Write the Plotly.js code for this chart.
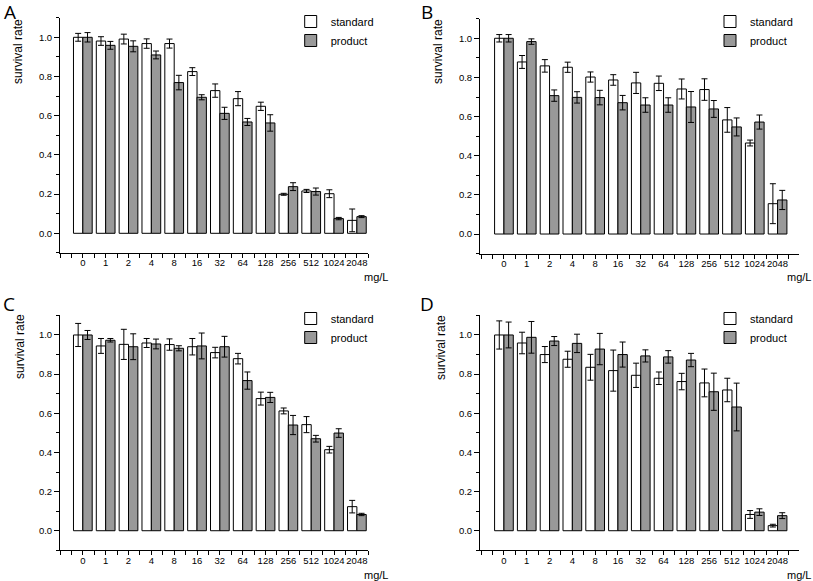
<!DOCTYPE html>
<html>
<head>
<meta charset="utf-8">
<script src="https://cdn.plot.ly/plotly-3.0.1.min.js"></script>
<style>html,body{margin:0;padding:0;background:#fff;}#chart{width:813px;height:581px;}</style>
</head>
<body>
<div id="chart"></div>
<script>
// ---- data ----
const categories = ['0','1','2','4','8','16','32','64','128','256','512','1024','2048'];
const seriesNames = ['standard','product'];

const A_standard = [1.000,0.981,0.991,0.968,0.968,0.825,0.728,0.687,0.648,0.199,0.216,0.202,0.066];
const A_standardErr = [0.020,0.022,0.025,0.024,0.023,0.020,0.034,0.036,0.021,0.005,0.008,0.020,0.058];
const A_product = [1.000,0.959,0.954,0.910,0.769,0.694,0.612,0.568,0.563,0.238,0.213,0.075,0.085];
const A_productErr = [0.024,0.020,0.028,0.020,0.037,0.013,0.031,0.018,0.042,0.020,0.018,0.006,0.005];

const B_standard = [1.000,0.879,0.859,0.852,0.802,0.787,0.772,0.770,0.741,0.738,0.583,0.465,0.155];
const B_standardErr = [0.019,0.033,0.032,0.026,0.026,0.027,0.054,0.037,0.051,0.055,0.063,0.015,0.102];
const B_product = [1.000,0.983,0.707,0.698,0.697,0.671,0.659,0.659,0.649,0.639,0.547,0.572,0.174];
const B_productErr = [0.019,0.014,0.029,0.029,0.037,0.037,0.037,0.037,0.079,0.043,0.046,0.036,0.049];

const C_standard = [1.000,0.944,0.952,0.959,0.951,0.940,0.910,0.879,0.675,0.612,0.542,0.414,0.123];
const C_standardErr = [0.059,0.038,0.077,0.023,0.029,0.042,0.027,0.027,0.033,0.015,0.041,0.017,0.032];
const C_product = [1.000,0.973,0.940,0.954,0.932,0.944,0.940,0.767,0.681,0.540,0.470,0.499,0.083];
const C_productErr = [0.023,0.009,0.066,0.025,0.013,0.066,0.053,0.044,0.026,0.049,0.017,0.022,0.006];

const D_standard = [1.000,0.959,0.900,0.876,0.835,0.818,0.794,0.779,0.762,0.755,0.719,0.083,0.026];
const D_standardErr = [0.072,0.055,0.041,0.041,0.066,0.105,0.062,0.032,0.042,0.071,0.060,0.020,0.007];
const D_product = [1.000,0.988,0.969,0.957,0.928,0.900,0.893,0.888,0.872,0.710,0.632,0.095,0.077];
const D_productErr = [0.066,0.081,0.023,0.047,0.080,0.064,0.031,0.032,0.034,0.095,0.122,0.017,0.015];

const panelLetters = ['A','B','C','D'];
const yTitle = 'survival rate';
const xUnit = 'mg/L';

// ---- build ----
const xIdx = categories.map((c, i) => i);
const panels = [
  {s: A_standard, se: A_standardErr, p: A_product, pe: A_productErr},
  {s: B_standard, se: B_standardErr, p: B_product, pe: B_productErr},
  {s: C_standard, se: C_standardErr, p: C_product, pe: C_productErr},
  {s: D_standard, se: D_standardErr, p: D_product, pe: D_productErr}
];

const W = 813, H = 581;
// pixel geometry of each panel: [left, right, top, bottom], x range
const geom = [
  {l: 60,  r: 368.3, t: 17.7,  b: 252.9, xr: [-1, 12.5],   leg: [290.7, 7],  title: [18, 52],  unit: [376, 277], letter: [9.5, 12]},
  {l: 480, r: 799,   t: 18.7,  b: 253.6, xr: [-1.05, 12.94], leg: [710, 7],  title: [438, 52], unit: [799, 277], letter: [426.5, 12]},
  {l: 60,  r: 368.3, t: 315.4, b: 550.3, xr: [-1, 12.5],   leg: [290.7, 304], title: [20, 347], unit: [376, 575], letter: [8.5, 303.5]},
  {l: 480, r: 799,   t: 315.4, b: 550.3, xr: [-1.05, 12.94], leg: [710, 304], title: [441, 348], unit: [799, 575], letter: [427, 303.5]}
];

const font = 'Liberation Sans, Arial, sans-serif';
const traces = [];
const layout = {
  width: W, height: H,
  margin: {l: 0, r: 0, t: 0, b: 0},
  paper_bgcolor: '#fff', plot_bgcolor: 'rgba(0,0,0,0)',
  barmode: 'group', bargap: 0.18, bargroupgap: 0,
  font: {family: font, size: 10, color: '#000'},
  annotations: [], showlegend: true
};

panels.forEach((pd, k) => {
  const g = geom[k];
  const sfx = k === 0 ? '' : String(k + 1);
  const legName = 'legend' + sfx;
  const errStyle = {type: 'data', visible: true, color: '#000', thickness: 1, width: 3};
  traces.push({
    type: 'bar', name: seriesNames[0], x: xIdx, y: pd.s,
    xaxis: 'x' + sfx, yaxis: 'y' + sfx, legend: legName,
    marker: {color: '#ffffff', line: {color: '#000', width: 1}},
    error_y: Object.assign({array: pd.se}, errStyle), hoverinfo: 'skip'
  });
  traces.push({
    type: 'bar', name: seriesNames[1], x: xIdx, y: pd.p,
    xaxis: 'x' + sfx, yaxis: 'y' + sfx, legend: legName,
    marker: {color: '#999999', line: {color: '#000', width: 1}},
    error_y: Object.assign({array: pd.pe}, errStyle), hoverinfo: 'skip'
  });
  layout['xaxis' + sfx] = {
    domain: [g.l / W, g.r / W], anchor: 'y' + sfx, range: g.xr,
    tickmode: 'array', tickvals: xIdx, ticktext: categories, tickangle: 0,
    ticks: 'outside', ticklen: 4, tickwidth: 1, tickcolor: '#000', ticklabelstandoff: -3,
    minor: {tickmode: 'linear', tick0: -1, dtick: 0.5, ticks: 'outside', ticklen: 4, tickwidth: 1, tickcolor: '#000'},
    showline: true, linecolor: '#000', linewidth: 1, showgrid: false, zeroline: false,
    tickfont: {family: font, size: 9.5, color: '#000'}, fixedrange: true
  };
  layout['yaxis' + sfx] = {
    domain: [1 - g.b / H, 1 - g.t / H], anchor: 'x' + sfx, range: [-0.1, 1.1],
    tickmode: 'linear', tick0: 0, dtick: 0.2, tickformat: '.1f',
    ticks: 'outside', ticklen: 5, tickwidth: 1, tickcolor: '#000',
    minor: {tickmode: 'linear', tick0: -0.1, dtick: 0.1, ticks: 'outside', ticklen: 3, tickwidth: 1, tickcolor: '#000'},
    showline: true, linecolor: '#000', linewidth: 1, showgrid: false, zeroline: false,
    tickfont: {family: font, size: 9.5, color: '#000'}, fixedrange: true
  };
  layout[legName] = {
    x: g.leg[0] / W, y: 1 - g.leg[1] / H, xanchor: 'left', yanchor: 'top',
    bgcolor: 'rgba(0,0,0,0)', borderwidth: 0,
    font: {family: font, size: 11, color: '#000'}, tracegroupgap: 0
  };
  layout.annotations.push({
    xref: 'paper', yref: 'paper', x: g.title[0] / W, y: 1 - g.title[1] / H,
    text: yTitle, textangle: -90, showarrow: false, xanchor: 'center', yanchor: 'middle',
    font: {family: font, size: 12, color: '#000'}
  });
  layout.annotations.push({
    xref: 'paper', yref: 'paper', x: g.unit[0] / W, y: 1 - g.unit[1] / H,
    text: xUnit, showarrow: false, xanchor: 'center', yanchor: 'middle',
    font: {family: font, size: 11, color: '#000'}
  });
  layout.annotations.push({
    xref: 'paper', yref: 'paper', x: g.letter[0] / W, y: 1 - g.letter[1] / H,
    text: panelLetters[k], showarrow: false, xanchor: 'center', yanchor: 'middle',
    font: {family: 'Open Sans, sans-serif', size: 19, color: '#000'}
  });
});

Plotly.newPlot('chart', traces, layout, {displayModeBar: false, staticPlot: true});
</script>
</body>
</html>
